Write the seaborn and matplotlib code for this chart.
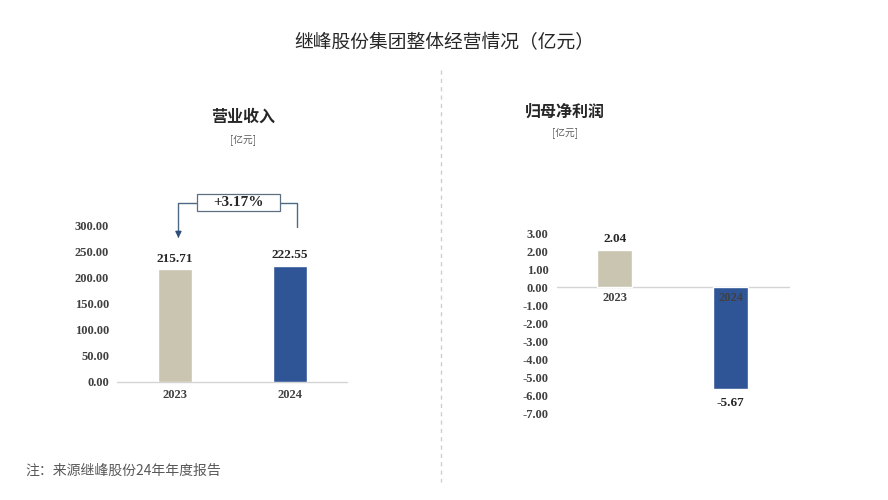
import matplotlib
matplotlib.use("Agg")
import matplotlib.pyplot as plt
import seaborn as sns
import pandas as pd

sns.set_theme(style="white")
plt.rcParams['font.family'] = ['Noto Sans CJK SC', 'DejaVu Sans']

# ---- data ----
years = ["2023", "2024"]
revenue = [215.71, 222.55]
net_profit = [2.04, -5.67]
bar_colors = ["#c9c5b1", "#2f5597"]
growth_label = "+3.17%"
rev_ticks = [0, 50, 100, 150, 200, 250, 300]
np_ticks = [3, 2, 1, 0, -1, -2, -3, -4, -5, -6, -7]

title = "继峰股份集团整体经营情况（亿元）"
left_title = "营业收入"
right_title = "归母净利润"
unit = "[亿元]"
note = "注：来源继峰股份24年年度报告"

serif = ['Liberation Serif', 'DejaVu Serif']
tick_color = "#404040"
tfs = 9

fig = plt.figure(figsize=(8.88, 5.0), dpi=100)
fig.patch.set_facecolor("white")

axL = fig.add_axes([0.1323, 0.236, 0.259, 0.314])
axR = fig.add_axes([0.627, 0.174, 0.261, 0.36])

dfL = pd.DataFrame({"year": years, "value": revenue})
dfR = pd.DataFrame({"year": years, "value": net_profit})

sns.barplot(data=dfL, x="year", y="value", hue="year", palette=bar_colors,
            width=0.30, ax=axL, legend=False, saturation=1)
sns.barplot(data=dfR, x="year", y="value", hue="year", palette=bar_colors,
            width=0.30, ax=axR, legend=False, saturation=1)

for ax in (axL, axR):
    ax.set_xlim(-0.5, 1.5)
    ax.set_xlabel("")
    ax.set_ylabel("")
    for s in ax.spines.values():
        s.set_visible(False)
    ax.axhline(0, color="#d4d4d4", lw=1.0, zorder=0, clip_on=False)
    ax.tick_params(axis="both", length=0, pad=6, colors=tick_color)
    for lab in ax.get_xticklabels() + ax.get_yticklabels():
        lab.set_fontfamily(serif)
        lab.set_fontweight("bold")
        lab.set_fontsize(tfs)
        lab.set_color(tick_color)
    ax.patch.set_alpha(0)

axL.set_ylim(0, 300)
axL.set_yticks(rev_ticks)
axL.set_yticklabels([f"{v:.2f}" for v in rev_ticks], fontfamily=serif,
                    fontweight="bold", fontsize=tfs, color=tick_color)
axL.tick_params(axis="x", pad=5)

axR.set_ylim(-7, 3)
axR.set_yticks(np_ticks)
axR.set_yticklabels([f"{v:.2f}" for v in np_ticks], fontfamily=serif,
                    fontweight="bold", fontsize=tfs, color=tick_color)
# x tick labels sit at the zero line
axR.set_xticks([])
for i, y in enumerate(years):
    axR.text(i, -0.3, y, ha="center", va="top", fontfamily=serif,
             fontweight="bold", fontsize=tfs, color=tick_color, zorder=5)

# value labels
for i, v in enumerate(revenue):
    axL.text(i, v + 8, f"{v:.2f}", ha="center", va="bottom", fontfamily=serif,
             fontweight="bold", fontsize=9.5, color="#262626")
for i, v in enumerate(net_profit):
    if v >= 0:
        axR.text(i, v + 0.3, f"{v:.2f}", ha="center", va="bottom", fontfamily=serif,
                 fontweight="bold", fontsize=9.5, color="#262626")
    else:
        axR.text(i, v - 0.45, f"{v:.2f}", ha="center", va="top", fontfamily=serif,
                 fontweight="bold", fontsize=9.5, color="#262626")

# growth bracket
lc = "#4d6a84"
axL.plot([0.19, 0.03, 0.03], [342, 342, 280], color=lc, lw=1.0, clip_on=False)
axL.annotate("", xy=(0.03, 270), xytext=(0.03, 282),
             arrowprops=dict(arrowstyle="-|>", color="#2f4f78", lw=1.0,
                             mutation_scale=9), annotation_clip=False)
axL.plot([0.91, 1.06, 1.06], [342, 342, 296], color=lc, lw=1.0, clip_on=False)
axL.add_patch(plt.Rectangle((0.19, 327), 0.72, 32, fc="white", ec="#5b6f80",
                            lw=0.9, clip_on=False, zorder=3))
axL.text(0.55, 343, growth_label, ha="center", va="center", fontfamily=serif,
         fontweight="bold", fontsize=11, color="#262626", zorder=4)

# titles
fig.text(0.5, 0.914, title, ha="center", va="center", fontsize=13.5, color="#262626")
fig.text(243 / 888, 1 - 117 / 500, left_title, ha="center", va="center",
         fontsize=11.5, fontweight="bold", color="#262626")
fig.text(243 / 888, 1 - 140 / 500, unit, ha="center", va="center",
         fontsize=7, color="#595959")
fig.text(565 / 888, 1 - 112 / 500, right_title, ha="center", va="center",
         fontsize=11.5, fontweight="bold", color="#262626")
fig.text(565 / 888, 1 - 133 / 500, unit, ha="center", va="center",
         fontsize=7, color="#595959")
fig.text(25 / 888, 1 - 471 / 500, note, ha="left", va="center",
         fontsize=10, color="#595959")

# dashed divider
fig.add_artist(plt.Line2D([441 / 888, 441 / 888], [1 - 70 / 500, 1 - 482 / 500],
                          transform=fig.transFigure, color="#cfcfcf", lw=1.0,
                          ls=(0, (3, 3))))

fig.savefig("out.png", dpi=100, facecolor="white")
